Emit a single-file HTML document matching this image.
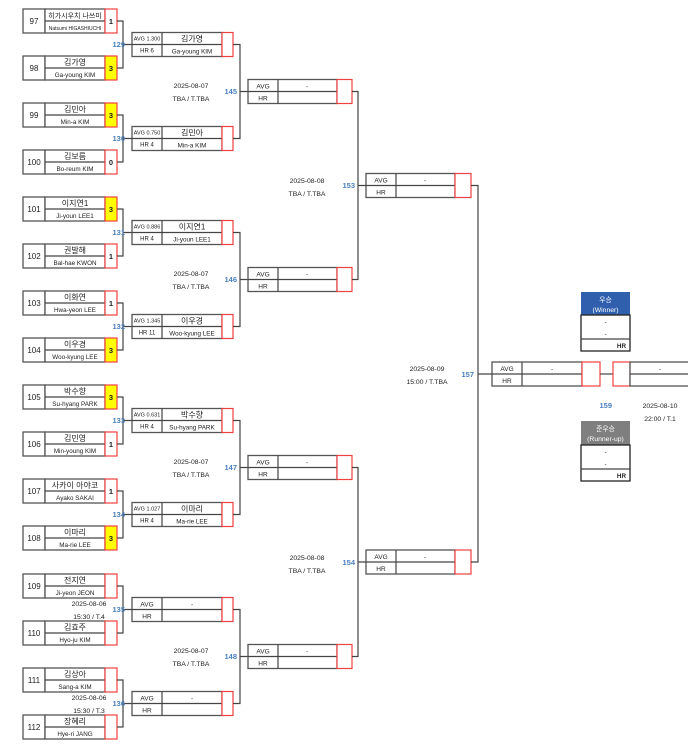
<!DOCTYPE html>
<html><head><meta charset="utf-8"><style>
html,body{margin:0;padding:0;background:#fff;}
svg{display:block;}
text{font-family:"Liberation Sans","Noto Sans CJK KR",sans-serif;fill:#222;}
.b{fill:#fff;stroke:#555;stroke-width:1.3;}
.r{fill:#fff;stroke:#f04040;stroke-width:1.2;}
.y{fill:#ffff00;stroke:#f04040;stroke-width:1.2;}
.l{stroke:#444;stroke-width:1.2;fill:none;}
.sd{font-size:8px;text-anchor:middle;}
.kn{font-size:8px;text-anchor:middle;}
.en{font-size:6.3px;text-anchor:middle;}
.sc{font-size:7.5px;font-weight:bold;text-anchor:middle;}
.sm{font-size:5.5px;text-anchor:middle;}
.bl{font-size:7.5px;font-weight:bold;fill:#4a7fc0;text-anchor:end;}
.dt{font-size:6.8px;text-anchor:middle;}
</style></head><body>
<svg width="688" height="751" viewBox="0 0 688 751" xmlns="http://www.w3.org/2000/svg">

<!-- Round 1 entries -->
<g transform="translate(0,9)"><rect class="b" x="23" y="0" width="22" height="24"/><rect class="b" x="45" y="0" width="60" height="24"/><line class="l" x1="45" y1="12" x2="105" y2="12"/><rect class="r" x="105" y="0" width="12" height="24"/><text class="sd" x="34" y="15">97</text><text class="kn" x="75" y="9" style="font-size:7px">히가시우치 나쓰미</text><text class="en" x="75" y="21" style="font-size:5px">Natsumi HIGASHIUCHI</text><text class="sc" x="111" y="15">1</text></g>
<g transform="translate(0,56)"><rect class="b" x="23" y="0" width="22" height="24"/><rect class="b" x="45" y="0" width="60" height="24"/><line class="l" x1="45" y1="12" x2="105" y2="12"/><rect class="y" x="105" y="0" width="12" height="24"/><text class="sd" x="34" y="15">98</text><text class="kn" x="75" y="9">김가영</text><text class="en" x="75" y="21">Ga-young KIM</text><text class="sc" x="111" y="15">3</text></g>
<g transform="translate(0,103)"><rect class="b" x="23" y="0" width="22" height="24"/><rect class="b" x="45" y="0" width="60" height="24"/><line class="l" x1="45" y1="12" x2="105" y2="12"/><rect class="y" x="105" y="0" width="12" height="24"/><text class="sd" x="34" y="15">99</text><text class="kn" x="75" y="9">김민아</text><text class="en" x="75" y="21">Min-a KIM</text><text class="sc" x="111" y="15">3</text></g>
<g transform="translate(0,150)"><rect class="b" x="23" y="0" width="22" height="24"/><rect class="b" x="45" y="0" width="60" height="24"/><line class="l" x1="45" y1="12" x2="105" y2="12"/><rect class="r" x="105" y="0" width="12" height="24"/><text class="sd" x="34" y="15">100</text><text class="kn" x="75" y="9">김보름</text><text class="en" x="75" y="21">Bo-reum KIM</text><text class="sc" x="111" y="15">0</text></g>
<g transform="translate(0,197)"><rect class="b" x="23" y="0" width="22" height="24"/><rect class="b" x="45" y="0" width="60" height="24"/><line class="l" x1="45" y1="12" x2="105" y2="12"/><rect class="y" x="105" y="0" width="12" height="24"/><text class="sd" x="34" y="15">101</text><text class="kn" x="75" y="9">이지연1</text><text class="en" x="75" y="21">Ji-youn LEE1</text><text class="sc" x="111" y="15">3</text></g>
<g transform="translate(0,244)"><rect class="b" x="23" y="0" width="22" height="24"/><rect class="b" x="45" y="0" width="60" height="24"/><line class="l" x1="45" y1="12" x2="105" y2="12"/><rect class="r" x="105" y="0" width="12" height="24"/><text class="sd" x="34" y="15">102</text><text class="kn" x="75" y="9">권발해</text><text class="en" x="75" y="21">Bal-hae KWON</text><text class="sc" x="111" y="15">1</text></g>
<g transform="translate(0,291)"><rect class="b" x="23" y="0" width="22" height="24"/><rect class="b" x="45" y="0" width="60" height="24"/><line class="l" x1="45" y1="12" x2="105" y2="12"/><rect class="r" x="105" y="0" width="12" height="24"/><text class="sd" x="34" y="15">103</text><text class="kn" x="75" y="9">이화연</text><text class="en" x="75" y="21">Hwa-yeon LEE</text><text class="sc" x="111" y="15">1</text></g>
<g transform="translate(0,338)"><rect class="b" x="23" y="0" width="22" height="24"/><rect class="b" x="45" y="0" width="60" height="24"/><line class="l" x1="45" y1="12" x2="105" y2="12"/><rect class="y" x="105" y="0" width="12" height="24"/><text class="sd" x="34" y="15">104</text><text class="kn" x="75" y="9">이우경</text><text class="en" x="75" y="21">Woo-kyung LEE</text><text class="sc" x="111" y="15">3</text></g>
<g transform="translate(0,385)"><rect class="b" x="23" y="0" width="22" height="24"/><rect class="b" x="45" y="0" width="60" height="24"/><line class="l" x1="45" y1="12" x2="105" y2="12"/><rect class="y" x="105" y="0" width="12" height="24"/><text class="sd" x="34" y="15">105</text><text class="kn" x="75" y="9">박수향</text><text class="en" x="75" y="21">Su-hyang PARK</text><text class="sc" x="111" y="15">3</text></g>
<g transform="translate(0,432)"><rect class="b" x="23" y="0" width="22" height="24"/><rect class="b" x="45" y="0" width="60" height="24"/><line class="l" x1="45" y1="12" x2="105" y2="12"/><rect class="r" x="105" y="0" width="12" height="24"/><text class="sd" x="34" y="15">106</text><text class="kn" x="75" y="9">김민영</text><text class="en" x="75" y="21">Min-young KIM</text><text class="sc" x="111" y="15">1</text></g>
<g transform="translate(0,479)"><rect class="b" x="23" y="0" width="22" height="24"/><rect class="b" x="45" y="0" width="60" height="24"/><line class="l" x1="45" y1="12" x2="105" y2="12"/><rect class="r" x="105" y="0" width="12" height="24"/><text class="sd" x="34" y="15">107</text><text class="kn" x="75" y="9">사카이 아야코</text><text class="en" x="75" y="21">Ayako SAKAI</text><text class="sc" x="111" y="15">1</text></g>
<g transform="translate(0,526)"><rect class="b" x="23" y="0" width="22" height="24"/><rect class="b" x="45" y="0" width="60" height="24"/><line class="l" x1="45" y1="12" x2="105" y2="12"/><rect class="y" x="105" y="0" width="12" height="24"/><text class="sd" x="34" y="15">108</text><text class="kn" x="75" y="9">이마리</text><text class="en" x="75" y="21">Ma-rie LEE</text><text class="sc" x="111" y="15">3</text></g>
<g transform="translate(0,574)"><rect class="b" x="23" y="0" width="22" height="24"/><rect class="b" x="45" y="0" width="60" height="24"/><line class="l" x1="45" y1="12" x2="105" y2="12"/><rect class="r" x="105" y="0" width="12" height="24"/><text class="sd" x="34" y="15">109</text><text class="kn" x="75" y="9">전지연</text><text class="en" x="75" y="21">Ji-yeon JEON</text></g>
<g transform="translate(0,621)"><rect class="b" x="23" y="0" width="22" height="24"/><rect class="b" x="45" y="0" width="60" height="24"/><line class="l" x1="45" y1="12" x2="105" y2="12"/><rect class="r" x="105" y="0" width="12" height="24"/><text class="sd" x="34" y="15">110</text><text class="kn" x="75" y="9">김효주</text><text class="en" x="75" y="21">Hyo-ju KIM</text></g>
<g transform="translate(0,668)"><rect class="b" x="23" y="0" width="22" height="24"/><rect class="b" x="45" y="0" width="60" height="24"/><line class="l" x1="45" y1="12" x2="105" y2="12"/><rect class="r" x="105" y="0" width="12" height="24"/><text class="sd" x="34" y="15">111</text><text class="kn" x="75" y="9">김상아</text><text class="en" x="75" y="21">Sang-a KIM</text></g>
<g transform="translate(0,715)"><rect class="b" x="23" y="0" width="22" height="24"/><rect class="b" x="45" y="0" width="60" height="24"/><line class="l" x1="45" y1="12" x2="105" y2="12"/><rect class="r" x="105" y="0" width="12" height="24"/><text class="sd" x="34" y="15">112</text><text class="kn" x="75" y="9">장혜리</text><text class="en" x="75" y="21">Hye-ri JANG</text></g>

<text class="dt" x="89" y="606">2025-08-06</text><text class="dt" x="89" y="619">15:30 / T.4</text>
<text class="dt" x="89" y="700">2025-08-06</text><text class="dt" x="89" y="713">15:30 / T.3</text>

<!-- R1 connectors -->
<path class="l" d="M117 21H123V68H117M123 44.5H132"/>
<path class="l" d="M117 115H123V162H117M123 138.5H132"/>
<path class="l" d="M117 209H123V256H117M123 232.5H132"/>
<path class="l" d="M117 303H123V350H117M123 326.5H132"/>
<path class="l" d="M117 397H123V444H117M123 420.5H132"/>
<path class="l" d="M117 491H123V538H117M123 514.5H132"/>
<path class="l" d="M117 586H123V633H117M123 609.5H132"/>
<path class="l" d="M117 680H123V727H117M123 703.5H132"/>
<text class="bl" x="125" y="47">129</text><text class="bl" x="125" y="141">130</text><text class="bl" x="125" y="235">131</text><text class="bl" x="125" y="329">132</text>
<text class="bl" x="125" y="423">133</text><text class="bl" x="125" y="517">134</text><text class="bl" x="125" y="612">135</text><text class="bl" x="125" y="706">136</text>

<!-- Round 2 -->
<g transform="translate(0,32.5)"><rect class="b" x="132" y="0" width="90" height="24"/><line class="l" x1="132" y1="12" x2="222" y2="12"/><line class="l" x1="162" y1="0" x2="162" y2="24"/><rect class="r" x="222" y="0" width="11" height="24"/><text class="sm" x="147" y="8">AVG 1.300</text><text class="sm" x="147" y="20" style="font-size:6px">HR 6</text><text class="kn" x="192" y="9">김가영</text><text class="en" x="192" y="21">Ga-young KIM</text></g>
<g transform="translate(0,126.5)"><rect class="b" x="132" y="0" width="90" height="24"/><line class="l" x1="132" y1="12" x2="222" y2="12"/><line class="l" x1="162" y1="0" x2="162" y2="24"/><rect class="r" x="222" y="0" width="11" height="24"/><text class="sm" x="147" y="8">AVG 0.750</text><text class="sm" x="147" y="20" style="font-size:6px">HR 4</text><text class="kn" x="192" y="9">김민아</text><text class="en" x="192" y="21">Min-a KIM</text></g>
<g transform="translate(0,220.5)"><rect class="b" x="132" y="0" width="90" height="24"/><line class="l" x1="132" y1="12" x2="222" y2="12"/><line class="l" x1="162" y1="0" x2="162" y2="24"/><rect class="r" x="222" y="0" width="11" height="24"/><text class="sm" x="147" y="8">AVG 0.886</text><text class="sm" x="147" y="20" style="font-size:6px">HR 4</text><text class="kn" x="192" y="9">이지연1</text><text class="en" x="192" y="21">Ji-youn LEE1</text></g>
<g transform="translate(0,314.5)"><rect class="b" x="132" y="0" width="90" height="24"/><line class="l" x1="132" y1="12" x2="222" y2="12"/><line class="l" x1="162" y1="0" x2="162" y2="24"/><rect class="r" x="222" y="0" width="11" height="24"/><text class="sm" x="147" y="8">AVG 1.345</text><text class="sm" x="147" y="20" style="font-size:6px">HR 11</text><text class="kn" x="192" y="9">이우경</text><text class="en" x="192" y="21">Woo-kyung LEE</text></g>
<g transform="translate(0,408.5)"><rect class="b" x="132" y="0" width="90" height="24"/><line class="l" x1="132" y1="12" x2="222" y2="12"/><line class="l" x1="162" y1="0" x2="162" y2="24"/><rect class="r" x="222" y="0" width="11" height="24"/><text class="sm" x="147" y="8">AVG 0.631</text><text class="sm" x="147" y="20" style="font-size:6px">HR 4</text><text class="kn" x="192" y="9">박수향</text><text class="en" x="192" y="21">Su-hyang PARK</text></g>
<g transform="translate(0,502.5)"><rect class="b" x="132" y="0" width="90" height="24"/><line class="l" x1="132" y1="12" x2="222" y2="12"/><line class="l" x1="162" y1="0" x2="162" y2="24"/><rect class="r" x="222" y="0" width="11" height="24"/><text class="sm" x="147" y="8">AVG 1.027</text><text class="sm" x="147" y="20" style="font-size:6px">HR 4</text><text class="kn" x="192" y="9">이마리</text><text class="en" x="192" y="21">Ma-rie LEE</text></g>
<g transform="translate(0,597.5)"><rect class="b" x="132" y="0" width="90" height="24"/><line class="l" x1="132" y1="12" x2="222" y2="12"/><line class="l" x1="162" y1="0" x2="162" y2="24"/><rect class="r" x="222" y="0" width="11" height="24"/><text class="sm" x="147" y="9" style="font-size:6.5px">AVG</text><text class="sm" x="147" y="21" style="font-size:6.5px">HR</text><text class="en" x="192" y="9">-</text></g>
<g transform="translate(0,691.5)"><rect class="b" x="132" y="0" width="90" height="24"/><line class="l" x1="132" y1="12" x2="222" y2="12"/><line class="l" x1="162" y1="0" x2="162" y2="24"/><rect class="r" x="222" y="0" width="11" height="24"/><text class="sm" x="147" y="9" style="font-size:6.5px">AVG</text><text class="sm" x="147" y="21" style="font-size:6.5px">HR</text><text class="en" x="192" y="9">-</text></g>

<!-- R2 connectors -->
<path class="l" d="M233 44.5H240V138.5H233M240 91.5H248"/>
<path class="l" d="M233 232.5H240V326.5H233M240 279.5H248"/>
<path class="l" d="M233 420.5H240V514.5H233M240 467.5H248"/>
<path class="l" d="M233 609.5H240V703.5H233M240 656.5H248"/>
<text class="bl" x="237" y="94">145</text><text class="bl" x="237" y="282">146</text><text class="bl" x="237" y="470">147</text><text class="bl" x="237" y="659">148</text>
<text class="dt" x="191" y="88">2025-08-07</text><text class="dt" x="191" y="101">TBA / T.TBA</text>
<text class="dt" x="191" y="276">2025-08-07</text><text class="dt" x="191" y="289">TBA / T.TBA</text>
<text class="dt" x="191" y="464">2025-08-07</text><text class="dt" x="191" y="477">TBA / T.TBA</text>
<text class="dt" x="191" y="653">2025-08-07</text><text class="dt" x="191" y="666">TBA / T.TBA</text>

<!-- Round 3 -->
<g transform="translate(0,79.5)"><rect class="b" x="248" y="0" width="89" height="24"/><line class="l" x1="248" y1="12" x2="337" y2="12"/><line class="l" x1="278" y1="0" x2="278" y2="24"/><rect class="r" x="337" y="0" width="15" height="24"/><text class="sm" x="263" y="9" style="font-size:6.5px">AVG</text><text class="sm" x="263" y="21" style="font-size:6.5px">HR</text><text class="en" x="307" y="9">-</text></g>
<g transform="translate(0,267.5)"><rect class="b" x="248" y="0" width="89" height="24"/><line class="l" x1="248" y1="12" x2="337" y2="12"/><line class="l" x1="278" y1="0" x2="278" y2="24"/><rect class="r" x="337" y="0" width="15" height="24"/><text class="sm" x="263" y="9" style="font-size:6.5px">AVG</text><text class="sm" x="263" y="21" style="font-size:6.5px">HR</text><text class="en" x="307" y="9">-</text></g>
<g transform="translate(0,455.5)"><rect class="b" x="248" y="0" width="89" height="24"/><line class="l" x1="248" y1="12" x2="337" y2="12"/><line class="l" x1="278" y1="0" x2="278" y2="24"/><rect class="r" x="337" y="0" width="15" height="24"/><text class="sm" x="263" y="9" style="font-size:6.5px">AVG</text><text class="sm" x="263" y="21" style="font-size:6.5px">HR</text><text class="en" x="307" y="9">-</text></g>
<g transform="translate(0,644.5)"><rect class="b" x="248" y="0" width="89" height="24"/><line class="l" x1="248" y1="12" x2="337" y2="12"/><line class="l" x1="278" y1="0" x2="278" y2="24"/><rect class="r" x="337" y="0" width="15" height="24"/><text class="sm" x="263" y="9" style="font-size:6.5px">AVG</text><text class="sm" x="263" y="21" style="font-size:6.5px">HR</text><text class="en" x="307" y="9">-</text></g>

<path class="l" d="M352 91.5H358V279.5H352M358 185.5H366"/>
<path class="l" d="M352 467.5H358V656.5H352M358 562H366"/>
<text class="bl" x="355" y="188">153</text><text class="bl" x="355" y="565">154</text>
<text class="dt" x="307" y="183">2025-08-08</text><text class="dt" x="307" y="196">TBA / T.TBA</text>
<text class="dt" x="307" y="560">2025-08-08</text><text class="dt" x="307" y="573">TBA / T.TBA</text>

<!-- Round 4 -->
<g transform="translate(0,173.5)"><rect class="b" x="366" y="0" width="89" height="24"/><line class="l" x1="366" y1="12" x2="455" y2="12"/><line class="l" x1="396" y1="0" x2="396" y2="24"/><rect class="r" x="455" y="0" width="16" height="24"/><text class="sm" x="381" y="9" style="font-size:6.5px">AVG</text><text class="sm" x="381" y="21" style="font-size:6.5px">HR</text><text class="en" x="425" y="9">-</text></g>
<g transform="translate(0,550)"><rect class="b" x="366" y="0" width="89" height="24"/><line class="l" x1="366" y1="12" x2="455" y2="12"/><line class="l" x1="396" y1="0" x2="396" y2="24"/><rect class="r" x="455" y="0" width="16" height="24"/><text class="sm" x="381" y="9" style="font-size:6.5px">AVG</text><text class="sm" x="381" y="21" style="font-size:6.5px">HR</text><text class="en" x="425" y="9">-</text></g>

<path class="l" d="M471 185.5H478V562H471M478 374H492"/>
<text class="bl" x="474" y="377">157</text>
<text class="dt" x="427" y="371">2025-08-09</text><text class="dt" x="427" y="384">15:00 / T.TBA</text>

<!-- Final -->
<g transform="translate(0,362)"><rect class="b" x="492" y="0" width="90" height="24"/><line class="l" x1="492" y1="12" x2="582" y2="12"/><line class="l" x1="522" y1="0" x2="522" y2="24"/><rect class="r" x="582" y="0" width="18" height="24"/><text class="sm" x="507" y="9" style="font-size:6.5px">AVG</text><text class="sm" x="507" y="21" style="font-size:6.5px">HR</text><text class="en" x="552" y="9">-</text>
<line class="l" x1="600" y1="12" x2="613" y2="12"/>
<rect class="r" x="613" y="0" width="17" height="24"/><rect class="b" x="630" y="0" width="60" height="24"/><line class="l" x1="630" y1="12" x2="690" y2="12"/><text class="en" x="660" y="9">-</text></g>
<text class="bl" x="612" y="408">159</text>
<text class="dt" x="660" y="408">2025-08-10</text><text class="dt" x="660" y="421">22:00 / T.1</text>

<!-- Winner -->
<rect x="581" y="292" width="49" height="23" fill="#2f5fad"/>
<text class="dt" x="605.5" y="302" style="fill:#fff">우승</text><text class="dt" x="605.5" y="312" style="fill:#fff">(Winner)</text>
<rect class="b" x="581" y="315" width="49" height="36" style="stroke:#222"/>
<line class="l" x1="581" y1="339" x2="630" y2="339"/>
<text class="en" x="605.5" y="324">-</text><text class="en" x="605.5" y="336">-</text>
<text class="en" x="626" y="348" style="text-anchor:end;font-weight:bold">HR</text>

<!-- Runner-up -->
<rect x="581" y="421" width="49" height="24" fill="#7f7f7f"/>
<text class="dt" x="605.5" y="431" style="fill:#fff">준우승</text><text class="dt" x="605.5" y="441" style="fill:#fff">(Runner-up)</text>
<rect class="b" x="581" y="445" width="49" height="36" style="stroke:#222"/>
<line class="l" x1="581" y1="469" x2="630" y2="469"/>
<text class="en" x="605.5" y="454">-</text><text class="en" x="605.5" y="466">-</text>
<text class="en" x="626" y="478" style="text-anchor:end;font-weight:bold">HR</text>
</svg>
</body></html>
